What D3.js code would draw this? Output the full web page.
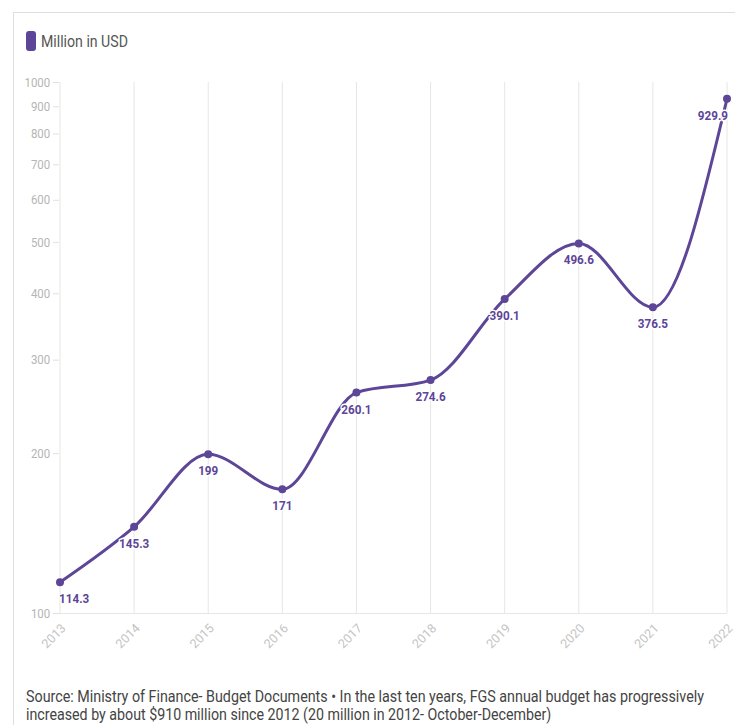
<!DOCTYPE html>
<html><head><meta charset="utf-8">
<script src="https://cdn.jsdelivr.net/npm/d3@7"></script>
<style>
html,body{margin:0;padding:0;background:#fff;overflow:hidden}
svg text{font-family:"Source Sans Pro","Roboto",sans-serif}
</style></head>
<body><svg id="c" width="735" height="725"></svg>
<script>
const years = ["2013","2014","2015","2016","2017","2018","2019","2020","2021","2022"];
const values = [114.3,145.3,199,171,260.1,274.6,390.1,496.6,376.5,929.9];
const labels = ["114.3","145.3","199","171","260.1","274.6","390.1","496.6","376.5","929.9"];
const yTicks = [100,200,300,400,500,600,700,800,900,1000];
const seriesName = "Million in USD";
const sourceLines = [
  "Source: Ministry of Finance- Budget Documents \u2022 In the last ten years, FGS annual budget has progressively",
  "increased by about $910 million since 2012 (20 million in 2012- October-December)"
];
const sourceWidths = [679, 526];

const color = "#5d4597";
const svg = d3.select("#c");

// card border
svg.append("rect").attr("x",13.5).attr("y",12.5).attr("width",760).attr("height",760)
  .attr("fill","none").attr("stroke","#dedede");

// helper: condense text horizontally to a target width
function fitWidth(sel, target){
  sel.each(function(d,i){
    const t = d3.select(this);
    const w = this.getComputedTextLength();
    const tw = typeof target === "function" ? target(d,i) : target;
    const x0 = +t.attr("x") || 0, y0 = +t.attr("y") || 0;
    t.attr("x",0).attr("y",0)
     .attr("transform",`translate(${x0},${y0}) scale(${Math.min(1,tw/w)},1)`);
  });
}

// legend
svg.append("rect").attr("x",26).attr("y",31).attr("width",10).attr("height",20).attr("rx",3)
  .attr("fill",color);
svg.append("text").attr("x",41).attr("y",47).attr("font-size",16).attr("fill","#555")
  .text(seriesName).call(fitWidth,87);

const x = d3.scalePoint().domain(years).range([60,727]);
const y = d3.scaleLog().domain([100,1000]).range([613,82]);

// vertical gridlines
svg.append("g").selectAll("line").data(years).join("line")
  .attr("x1",d=>x(d)).attr("x2",d=>x(d)).attr("y1",y(1000)).attr("y2",y(100))
  .attr("stroke","#e6e6e6").attr("stroke-width",1);

// baseline
svg.append("line").attr("x1",53).attr("x2",727).attr("y1",y(100)+0.5).attr("y2",y(100)+0.5)
  .attr("stroke","#e6e6e6");

// y axis
const yAxis = d3.axisLeft(y).tickValues(yTicks).tickFormat(d3.format("d")).tickSize(6).tickPadding(4);
const gy = svg.append("g").attr("transform","translate(59,0)").call(yAxis);
gy.select(".domain").remove();
gy.selectAll(".tick line").attr("stroke","#e0e0e0");
gy.selectAll(".tick text").attr("fill","#b5b5b5").attr("font-size",13)
  .attr("transform","scale(0.88,1)");

// x axis
const xAxis = d3.axisBottom(x).tickSize(0).tickPadding(8);
const gx = svg.append("g").attr("transform",`translate(0,${y(100)})`).call(xAxis);
gx.select(".domain").remove();
gx.selectAll(".tick text").attr("fill","#c4c4c4").attr("font-size",12.5)
  .attr("x",0).attr("y",0).attr("dy","0.35em")
  .attr("text-anchor","end")
  .attr("transform","translate(3,13) rotate(-45)");

const data = years.map((yr,i)=>({yr,v:values[i],l:labels[i],i}));

// line
const line = d3.line().x(d=>x(d.yr)).y(d=>y(d.v)).curve(d3.curveMonotoneX);
svg.append("path").datum(data).attr("d",line).attr("fill","none")
  .attr("stroke",color).attr("stroke-width",3).attr("stroke-linecap","round");

// points
svg.append("g").selectAll("circle").data(data).join("circle")
  .attr("cx",d=>x(d.yr)).attr("cy",d=>y(d.v)).attr("r",4).attr("fill",color);

// labels
const last = years.length-1;
svg.append("g").selectAll("text").data(data).join("text")
  .attr("transform",d=>{
    const px = d.i===0 ? x(d.yr)-1 : d.i===last ? x(d.yr)+1 : x(d.yr);
    return `translate(${px},${y(d.v)+21}) scale(0.9,1)`;
  })
  .attr("text-anchor",d=> d.i===0 ? "start" : d.i===last ? "end" : "middle")
  .attr("font-size",13).attr("font-weight","bold").attr("fill",color)
  .attr("stroke","#fff").attr("stroke-width",3).attr("paint-order","stroke").attr("stroke-linejoin","round")
  .text(d=>d.l);

// source
svg.append("g").selectAll("text").data(sourceLines).join("text")
  .attr("x",26).attr("y",(d,i)=>702+i*18).attr("font-size",16).attr("fill","#444")
  .text(d=>d)
  .call(fitWidth,(d,i)=>sourceWidths[i]);
</script></body></html>
